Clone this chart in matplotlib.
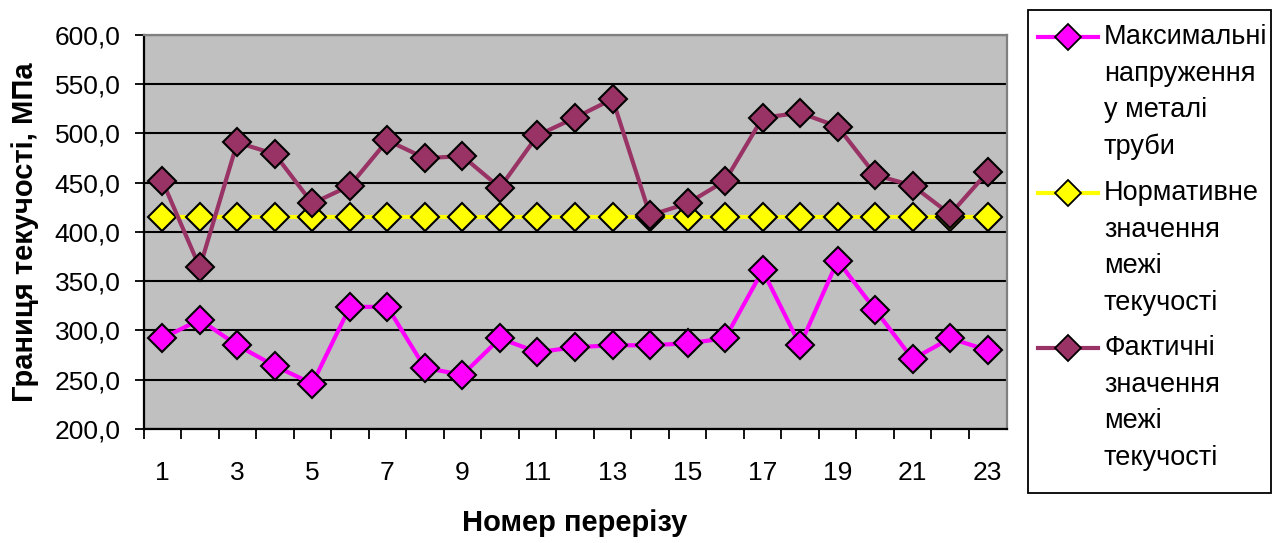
import matplotlib
matplotlib.use("Agg")
import matplotlib.pyplot as plt
from matplotlib.lines import Line2D
from matplotlib.patches import Rectangle
from matplotlib.ticker import FuncFormatter, FixedLocator

plt.rcParams['font.family'] = ['Liberation Sans', 'DejaVu Sans']

sections = list(range(1, 24))
max_stress = [292, 311, 285, 264, 246, 324, 324, 262, 255, 292, 278, 283,
              285, 285, 287, 292, 361, 285, 371, 321, 271, 292, 280]
normative = [415] * 23
actual = [452, 364, 491, 479, 429, 447, 493, 475, 477, 445, 498, 516,
          535, 417, 429, 452, 516, 521, 507, 458, 447, 418, 461]
labels = ["Максимальні\nнапруження\nу металі\nтруби",
          "Нормативне\nзначення\nмежі\nтекучості",
          "Фактичні\nзначення\nмежі\nтекучості"]
colors = ["#FF00FF", "#FFFF00", "#993366"]
xtick_labels = [str(i) for i in range(1, 24, 2)]

W, H = 1284, 543
fig = plt.figure(figsize=(W / 100, H / 100), dpi=100)
ax = fig.add_axes([143.5 / W, 1 - 429 / H, (1006.5 - 143.5) / W, (429 - 35) / H])
ax.set_facecolor("#C0C0C0")

fs_tick = 19
fs_lab = 21
fs_leg = 19.5
series = [max_stress, normative, actual]
for vals, c in zip(series, colors):
    ax.plot(sections, vals, color=c, lw=3.0, marker='D', markersize=14.5,
            markerfacecolor=c, markeredgecolor='black', markeredgewidth=1.5,
            zorder=3)

ax.set_xlim(0.5, 23.5)
ax.set_ylim(200, 600)
ax.set_yticks(range(200, 601, 50))
ax.yaxis.set_major_formatter(FuncFormatter(lambda v, p: f"{v:.1f}".replace('.', ',')))
ax.grid(axis='y', color='black', lw=1.5, zorder=1)
ax.set_axisbelow(True)

ax.xaxis.set_major_locator(FixedLocator(range(1, 24, 2)))
ax.set_xticklabels(xtick_labels)
ax.xaxis.set_minor_locator(FixedLocator([i + 0.5 for i in range(0, 23)]))
ax.tick_params(axis='x', which='major', length=0, pad=23, labelsize=fs_tick)
ax.tick_params(axis='x', which='minor', length=7, width=1.3, direction='out')
ax.tick_params(axis='y', length=6.5, width=1.3, direction='out', pad=10, labelsize=fs_tick)

for s in ['left', 'bottom']:
    ax.spines[s].set_color('black')
    ax.spines[s].set_linewidth(1.6)
for s in ['top', 'right']:
    ax.spines[s].set_color('#808080')
    ax.spines[s].set_linewidth(1.6)

ax.set_xlabel("Номер перерізу", fontsize=fs_lab, fontweight='bold')
ax.set_ylabel("Границя текучості, МПа", fontsize=fs_lab, fontweight='bold')
ax.xaxis.set_label_coords(0.5, (429 - 509) / (429 - 35))
ax.yaxis.set_label_coords((39 - 143.5) / (1006.5 - 143.5), 0.5)

# legend drawn manually
lx0, ly0, lx1, ly1 = 1028, 10, 1271, 493
fig.patches.append(Rectangle((lx0 / W, 1 - ly1 / H), (lx1 - lx0) / W, (ly1 - ly0) / H,
                             transform=fig.transFigure, facecolor='white',
                             edgecolor='black', lw=1.3))
first_y = [37, 193, 348]
line_sp = 36.7
for lab, c, fy in zip(labels, colors, first_y):
    fig.add_artist(Line2D([1038 / W, 1098 / W], [1 - fy / H, 1 - fy / H],
                          color=c, lw=3.0, transform=fig.transFigure))
    fig.add_artist(Line2D([1068 / W], [1 - fy / H], marker='D', markersize=13,
                          markerfacecolor=c, markeredgecolor='black',
                          markeredgewidth=1.3, transform=fig.transFigure))
    for k, line in enumerate(lab.split("\n")):
        fig.text(1104 / W, 1 - (fy + k * line_sp) / H, line, fontsize=fs_leg,
                 va='center', ha='left')

fig.savefig("out.png", dpi=100)
